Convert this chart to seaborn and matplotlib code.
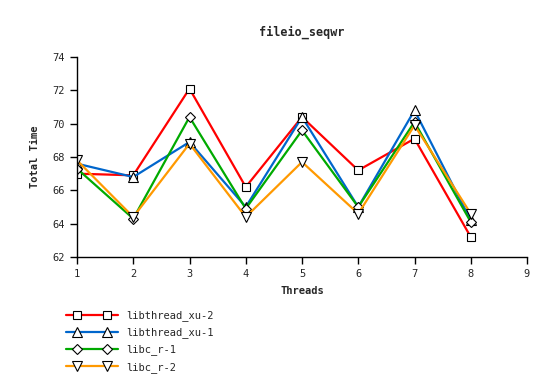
import seaborn as sns
import matplotlib.pyplot as plt
import pandas as pd
import numpy as np
from matplotlib.lines import Line2D
from matplotlib.legend_handler import HandlerLine2D

threads = [1, 2, 3, 4, 5, 6, 7, 8]
xu2 = [67.0, 66.9, 72.1, 66.2, 70.4, 67.2, 69.1, 63.2]
xu1 = [67.6, 66.8, 68.9, 65.0, 70.4, 65.0, 70.8, 64.2]
r1 = [67.3, 64.3, 70.4, 64.9, 69.6, 65.0, 70.1, 64.1]
r2 = [67.8, 64.4, 68.8, 64.4, 67.7, 64.6, 69.9, 64.6]

names = ["libthread_xu-2", "libthread_xu-1", "libc_r-1", "libc_r-2"]
series = [xu2, xu1, r1, r2]
colors = ["#ff0000", "#0066cc", "#00aa00", "#ff9900"]
markers = ["s", "^", "D", "v"]
msizes = [5.5, 7, 5.5, 7]


# full-width line in the legend, two markers pulled in from the ends
class InsetMarkers(HandlerLine2D):
    def create_artists(self, legend, orig_handle, xdescent, ydescent,
                       width, height, fontsize, trans):
        arts = super().create_artists(legend, orig_handle, xdescent, ydescent,
                                      width, height, fontsize, trans)
        line = arts[0]
        x0, x1 = -xdescent, -xdescent + width
        pad = 1.05 * fontsize
        y = np.asarray(line.get_ydata())[0]
        line.set_data([x0, x0 + pad, x1 - pad, x1], [y] * 4)
        line.set_markevery([1, 2])
        return arts


sns.set_style("ticks")
plt.rcParams['font.family'] = ['DejaVu Sans Mono', 'DejaVu Sans']

fig = plt.figure(figsize=(5.54, 3.91), dpi=100)
ax = fig.add_axes([77 / 554, 1 - 257 / 391, 450 / 554, 200 / 391])

for name, vals, c, m, ms in zip(names, series, colors, markers, msizes):
    df = pd.DataFrame({"Threads": threads, "Total Time": vals})
    sns.lineplot(data=df, x="Threads", y="Total Time", ax=ax, color=c,
                 marker=m, markersize=ms, linewidth=1.6, markerfacecolor="white",
                 markeredgecolor="black", markeredgewidth=0.8, label=name)

ax.set_xlim(1, 9)
ax.set_ylim(62, 74)
ax.set_xticks(range(1, 10))
ax.set_yticks(range(62, 75, 2))
ax.tick_params(labelsize=7.5, length=5, width=1, color="black")
ax.set_xlabel("Threads", fontsize=7.5, fontweight="bold", labelpad=5)
ax.set_ylabel("Total Time", fontsize=7.5, fontweight="bold", labelpad=9)
ax.set_title("fileio_seqwr", fontsize=8.5, fontweight="bold", pad=15)
sns.despine(ax=ax)
for s in ["left", "bottom"]:
    ax.spines[s].set_color("black")
    ax.spines[s].set_linewidth(1)

h, l = ax.get_legend_handles_labels()
ax.legend(h, l, loc="upper left",
          bbox_to_anchor=(62 / 554, 1 - 306 / 391),
          bbox_transform=fig.transFigure, frameon=False, numpoints=2,
          handlelength=5.0, handletextpad=0.8, labelspacing=0.6,
          fontsize=7.5, borderaxespad=0,
          handler_map={Line2D: InsetMarkers(marker_pad=0)})

fig.savefig("out.png", dpi=100)
